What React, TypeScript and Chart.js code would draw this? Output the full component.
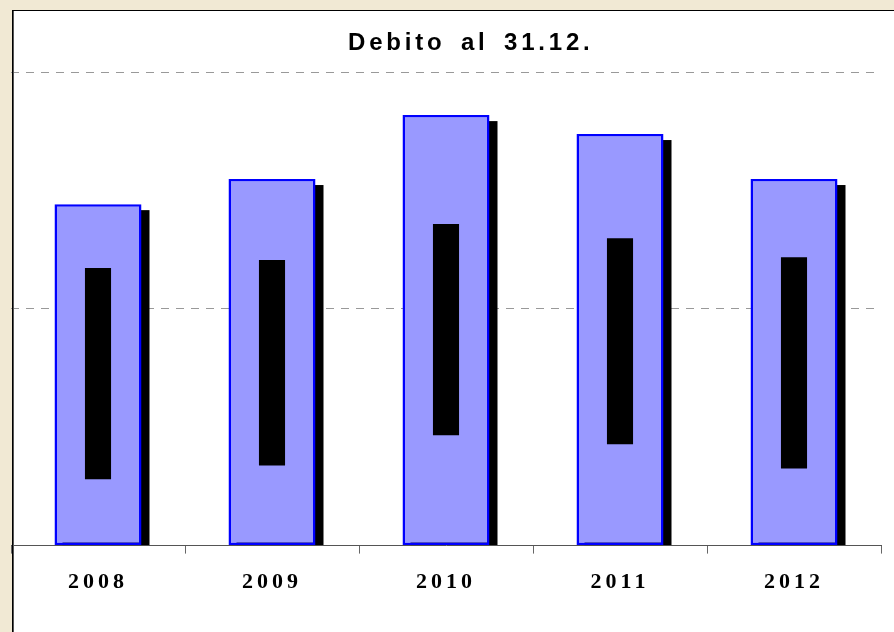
import React, { useEffect, useRef } from "react";
import { Chart, registerables } from "chart.js";

Chart.register(...registerables);

const categories = ["2008", "2009", "2010", "2011", "2012"];
const totalDebt = [72.1, 77.4, 90.9, 86.9, 77.4];
const innerLow = [14.0, 16.9, 23.3, 21.4, 16.3];
const innerHigh = [58.6, 60.3, 67.9, 64.9, 60.9];
const titleText = "Debito al 31.12.";
const yMax = 100;
const yStep = 50;

const backdropPlugin = {
  id: "backdrop",
  beforeDraw(chart: any) {
    const ctx = chart.ctx;
    ctx.save();
    ctx.letterSpacing = "0px";
    ctx.fillStyle = "#F1E9D4";
    ctx.fillRect(0, 0, chart.width, chart.height);
    ctx.fillStyle = "#FFFFFF";
    ctx.fillRect(13, 10, chart.width - 13, chart.height - 10);
    ctx.restore();
    // letter spacing for tick labels
    ctx.letterSpacing = "4px";
  },
  afterDraw(chart: any) {
    const ctx = chart.ctx;
    ctx.save();
    ctx.letterSpacing = "0px";
    ctx.fillStyle = "#000000";
    ctx.fillRect(12, 10, chart.width - 12, 1);
    ctx.fillRect(12, 10, 1, chart.height - 10);
    ctx.fillStyle = "#555555";
    ctx.fillRect(13, 11, 1, chart.height - 11);
    ctx.letterSpacing = "3.8px";
    (ctx as any).wordSpacing = "5px";
    ctx.font = "bold 24px 'Liberation Sans', Arial, sans-serif";
    ctx.fillStyle = "#000000";
    ctx.textAlign = "left";
    ctx.textBaseline = "alphabetic";
    ctx.fillText(titleText, 348, 50);
    ctx.restore();
    ctx.letterSpacing = "0px";
  },
};

const shadowPlugin = {
  id: "barShadow",
  beforeDatasetsDraw(chart: any) {
    const ctx = chart.ctx;
    const area = chart.chartArea;
    const meta = chart.getDatasetMeta(0);
    ctx.save();
    ctx.beginPath();
    ctx.rect(area.left, area.top, area.right - area.left, area.bottom - area.top);
    ctx.clip();
    ctx.fillStyle = "#000000";
    meta.data.forEach((el: any) => {
      const w = el.width;
      const left = el.x - w / 2 + 8;
      const top = el.y + 6;
      ctx.fillRect(left, top, w, el.base - top);
    });
    ctx.restore();
  },
};

export default function App() {
  const ref = useRef<HTMLCanvasElement | null>(null);
  useEffect(() => {
    if (!ref.current) return;
    const chart = new Chart(ref.current, {
      type: "bar",
      data: {
        labels: categories,
        datasets: [
          {
            data: totalDebt,
            backgroundColor: "#9999FF",
            borderColor: "#0000FF",
            borderWidth: 2.5,
            borderSkipped: false,
            barPercentage: 0.5,
            categoryPercentage: 1,
            grouped: false,
            order: 2,
          } as any,
          {
            data: categories.map((_, i) => [innerLow[i], innerHigh[i]]),
            backgroundColor: "#000000",
            borderWidth: 0,
            barPercentage: 0.15,
            categoryPercentage: 1,
            grouped: false,
            order: 1,
          } as any,
        ],
      },
      options: {
        responsive: false,
        animation: false,
        devicePixelRatio: 1,
        layout: { padding: { left: 11, right: 13, top: 72, bottom: 20 } },
        plugins: {
          legend: { display: false },
          title: { display: false },
          tooltip: { enabled: false },
        },
        scales: {
          x: {
            offset: true,
            grid: {
              offset: true,
              drawOnChartArea: false,
              drawTicks: true,
              tickLength: 8,
              color: "#666666",
            },
            border: { display: true, color: "#555555", width: 1 },
            ticks: {
              padding: 16,
              color: "#000000",
              font: { family: "'Liberation Serif', 'Times New Roman', serif", size: 22, weight: "bold" },
              maxRotation: 0,
            },
          },
          y: {
            min: 0,
            max: yMax,
            ticks: { display: false, stepSize: yStep },
            grid: {
              drawTicks: false,
              color: (c: any) => (c.tick && c.tick.value === 0 ? "rgba(0,0,0,0)" : "#999999"),
              lineWidth: 1,
            },
            border: { display: false, dash: [8, 7] },
          },
        },
      },
      plugins: [backdropPlugin, shadowPlugin],
    });
    return () => chart.destroy();
  }, []);
  return (
    <div style={{ position: "fixed", left: 0, top: 0, width: 894, height: 632 }}>
      <canvas ref={ref} width={894} height={632} style={{ display: "block" }} />
    </div>
  );
}
